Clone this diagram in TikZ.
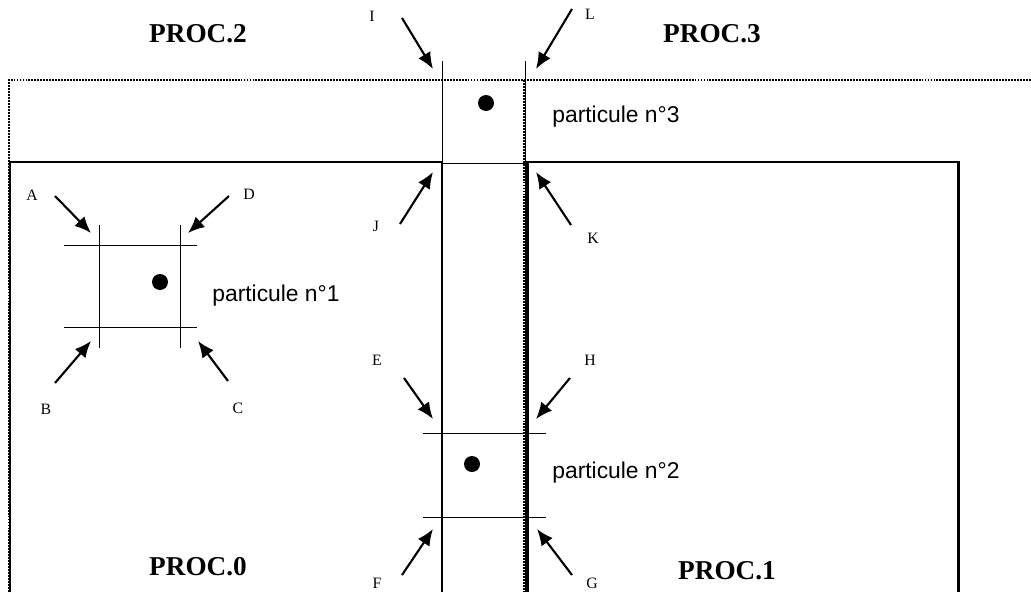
\documentclass[tikz,border=0pt]{standalone}
\usepackage{fontspec}
\setmainfont{Liberation Serif}
\setsansfont{Liberation Sans}
\usetikzlibrary{arrows.meta,positioning}

\tikzset{
  procbox/.style={line width=1.7pt},
  thinline/.style={line width=0.5pt},
  dotline/.style={line width=0.9pt, dash pattern=on 1.1pt off 0.6pt},
  ptr/.style={line width=1.2pt, -{Latex[length=3.3mm,width=2.8mm]}},
  particle/.style={circle, fill=black, inner sep=0pt, minimum size=3.2mm},
  letter/.style={font=\fontsize{9}{10}\selectfont, inner sep=0pt},
  proclabel/.style={font=\fontsize{15.5}{17}\selectfont\bfseries},
  partlabel/.style={font=\sffamily\fontsize{13}{15}\selectfont, anchor=west, inner sep=0pt},
}

\begin{document}
\begin{tikzpicture}[x=0.02cm, y=-0.02cm]
    \useasboundingbox (0,0) rectangle (1031,592);

    % decoupage en processeurs
    \draw[dotline] (1031,80) -- (9,80) -- (9,592);
    \draw[dotline] (524,80) -- (524,592);
    \draw[procbox] (10,592) -- (10,162) -- (442,162) -- (442,592);
    \draw[procbox] (527,592) -- (527,162) -- (958,162) -- (958,592);

    \node[proclabel] (proc2) at (198,34) {PROC.2};
    \node[proclabel] (proc3) at (712,34) {PROC.3};
    \node[proclabel] (proc0) at (198,567) {PROC.0};
    \node[proclabel] (proc1) at (727,571) {PROC.1};

    % particule 1
    \draw[thinline] (99,225) -- (99,348) (180,225) -- (180,348)
        (64,245) -- (197,245) (64,327) -- (197,327);
    \node[particle] (p1) at (160,282) {};
    \node[partlabel] (t1) at (212,296) {particule n°1};

    % particule 2
    \draw[thinline] (423,433) -- (546,433) (423,517) -- (546,517);
    \node[particle] (p2) at (472,464) {};
    \node[partlabel] (t2) at (552,473) {particule n°2};

    % particule 3
    \draw[thinline] (442,61) -- (442,162) (525,61) -- (525,592) (442,163) -- (525,163);
    \node[particle] (p3) at (486,103) {};
    \node[partlabel] (t3) at (552,117) {particule n°3};

    % coins
    \node[letter] (A) at (32,195) {A};
    \node[letter] (D) at (249,194) {D};
    \node[letter] (B) at (46,409) {B};
    \node[letter] (C) at (238,408) {C};
    \node[letter] (I) at (372,16) {I};
    \node[letter] (L) at (590,14) {L};
    \node[letter] (J) at (376,226) {J};
    \node[letter] (K) at (593,238) {K};
    \node[letter] (E) at (377,360) {E};
    \node[letter] (H) at (590,360) {H};
    \node[letter] (F) at (377,583) {F};
    \node[letter] (G) at (592,583) {G};

    \coordinate (a0) at (55,196);  \coordinate (a1) at (91,233);
    \coordinate (d0) at (229,196); \coordinate (d1) at (188,233);
    \coordinate (b0) at (55,383);  \coordinate (b1) at (91,341);
    \coordinate (c0) at (228,381); \coordinate (c1) at (198,341);
    \coordinate (i0) at (402,18);  \coordinate (i1) at (433,69);
    \coordinate (l0) at (572,9);   \coordinate (l1) at (536,69);
    \coordinate (j0) at (400,224); \coordinate (j1) at (433,172);
    \coordinate (k0) at (571,225); \coordinate (k1) at (536,172);
    \coordinate (e0) at (404,378); \coordinate (e1) at (433,419);
    \coordinate (h0) at (570,378); \coordinate (h1) at (536,419);
    \coordinate (f0) at (402,575); \coordinate (f1) at (433,529);
    \coordinate (g0) at (572,575); \coordinate (g1) at (537,529);

    \draw[ptr] (a0) -- (a1);
    \draw[ptr] (d0) -- (d1);
    \draw[ptr] (b0) -- (b1);
    \draw[ptr] (c0) -- (c1);
    \draw[ptr] (i0) -- (i1);
    \draw[ptr] (l0) -- (l1);
    \draw[ptr] (j0) -- (j1);
    \draw[ptr] (k0) -- (k1);
    \draw[ptr] (e0) -- (e1);
    \draw[ptr] (h0) -- (h1);
    \draw[ptr] (f0) -- (f1);
    \draw[ptr] (g0) -- (g1);
\end{tikzpicture}
\end{document}
